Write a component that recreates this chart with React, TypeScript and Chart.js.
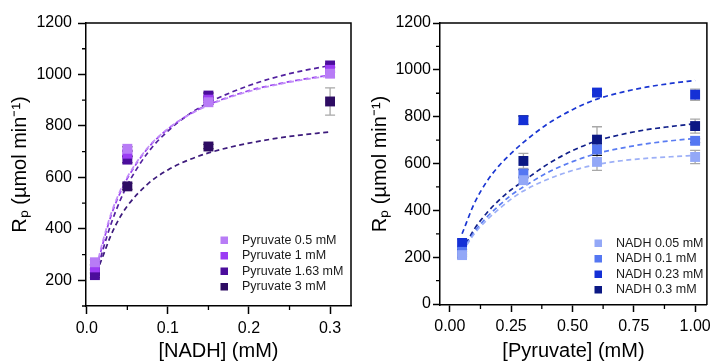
import React, { useEffect, useRef } from 'react';
import { Chart, registerables } from 'chart.js';

Chart.register(...registerables);

const FONT = "'Liberation Sans', Arial, Helvetica, sans-serif";
const BLK = '#111111';
const GRY = '#a8a8a8';

// ---------------- Left panel: Rp vs [NADH] ----------------
const nadhConc = [0.01, 0.05, 0.15, 0.3];
const pyruvateLabels = ['Pyruvate 0.5 mM', 'Pyruvate 1 mM', 'Pyruvate 1.63 mM', 'Pyruvate 3 mM'];
const pyruvateColors = ['#b87cf6', '#9b3cf4', '#4b0d9c', '#2e0c63'];
const pyruvateFitColors = ['#c28ef8', '#9a42f0', '#52209f', '#3d1b7c'];

const pyr05Rate = [270, 711, 892, 1003];
const pyr1Rate = [250, 692, 902, 1018];
const pyr163Rate = [220, 669, 918, 1035];
const pyr3Rate = [235, 565, 720, 895];

const pyr05Err = [10, 8, 8, 13];
const pyr1Err = [10, 10, 10, 9];
const pyr163Err = [10, 12, 10, 6];
const pyr3Err = [10, 12, 8, 53];

const pyr05ErrColor = [BLK, BLK, BLK, GRY];
const pyr1ErrColor = [BLK, BLK, BLK, BLK];
const pyr163ErrColor = [BLK, BLK, BLK, BLK];
const pyr3ErrColor = [BLK, BLK, BLK, GRY];

const nadhFitConc = [0.012, 0.02, 0.03, 0.04, 0.05, 0.075, 0.1, 0.125, 0.15, 0.2, 0.25, 0.3];
const pyr05Fit = [255, 355, 460, 540, 602, 715, 789, 841, 880, 934, 970, 995];
const pyr1Fit = [245, 345, 452, 532, 596, 712, 788, 842, 882, 937, 972, 998];
const pyr163Fit = [225, 320, 420, 502, 570, 695, 780, 843, 890, 957, 1003, 1035];
const pyr3Fit = [230, 295, 377, 440, 489, 574, 629, 667, 695, 733, 759, 777];

const nadhTicks = [0, 0.1, 0.2, 0.3];
const nadhMinorTicks = [0.05, 0.15, 0.25];
const leftRateTicks = [200, 400, 600, 800, 1000, 1200];
const leftRateMinorTicks = [100, 300, 500, 700, 900, 1100];

// ---------------- Right panel: Rp vs [Pyruvate] ----------------
const pyruvateConc = [0.05, 0.3, 0.6, 1.0];
const nadhLabels = ['NADH 0.05 mM', 'NADH 0.1 mM', 'NADH 0.23 mM', 'NADH 0.3 mM'];
const nadhColors = ['#93a8f7', '#5577f2', '#1430d6', '#0b1884'];
const nadhFitColors = ['#9db0f7', '#5a7cf2', '#1a36d2', '#11208a'];

const nadh005Rate = [209, 529, 607, 628];
const nadh01Rate = [223, 557, 660, 697];
const nadh023Rate = [261, 785, 903, 894];
const nadh03Rate = [215, 611, 702, 760];

const nadh005Err = [12, 15, 36, 28];
const nadh01Err = [10, 17, 25, 8];
const nadh023Err = [15, 18, 10, 24];
const nadh03Err = [10, 32, 55, 30];

const nadh005ErrColor = [GRY, GRY, GRY, GRY];
const nadh01ErrColor = [BLK, BLK, BLK, BLK];
const nadh023ErrColor = [GRY, BLK, BLK, GRY];
const nadh03ErrColor = [BLK, GRY, GRY, GRY];

const pyrFitConc = [0.05, 0.1, 0.15, 0.2, 0.25, 0.3, 0.4, 0.5, 0.6, 0.7, 0.8, 0.9, 1.0];
const nadh005Fit = [222, 300, 358, 405, 448, 483, 533, 570, 596, 612, 622, 629, 635];
const nadh01Fit = [224, 308, 370, 420, 465, 500, 562, 608, 643, 666, 684, 697, 707];
const nadh023Fit = [300, 430, 522, 590, 643, 690, 770, 830, 875, 904, 926, 942, 955];
const nadh03Fit = [226, 320, 388, 443, 488, 525, 598, 655, 697, 724, 744, 758, 770];

const pyrTicks = [0, 0.25, 0.5, 0.75, 1.0];
const pyrMinorTicks = [0.125, 0.375, 0.625, 0.875];
const rightRateTicks = [0, 200, 400, 600, 800, 1000, 1200];
const rightRateMinorTicks = [100, 300, 500, 700, 900, 1100];

const yTitle = 'R\u209A (\u00B5mol min\u207B\u00B9)';

type Series = {
  label: string; color: string; fitColor: string;
  values: number[]; errors: number[]; errColors: string[]; fit: number[];
};

type Spec = {
  width: number; height: number; offsetX: number;
  areaLeft: number; areaRight: number; areaTop: number; areaBottom: number;
  xMin: number; xMax: number; yMin: number; yMax: number;
  xTicks: number[]; xMinor: number[]; yTicks: number[]; yMinor: number[];
  xDec: number; xTitle: string; tickLen: number; yPad: number; xPad: number; yTitlePad: number;
  pointX: number[]; fitX: number[]; series: Series[];
  legendX: number; legendTextX: number; legendY: number; legendStep: number;
};

const leftSpec: Spec = {
  width: 358, height: 363, offsetX: 0,
  areaLeft: 86, areaRight: 352, areaTop: 23, areaBottom: 306,
  xMin: -0.001, xMax: 0.3258, yMin: 100, yMax: 1200,
  xTicks: nadhTicks, xMinor: nadhMinorTicks, yTicks: leftRateTicks, yMinor: leftRateMinorTicks,
  xDec: 1, xTitle: '[NADH] (mM)', tickLen: 8, yPad: 6, xPad: 5, yTitlePad: 8,
  pointX: nadhConc, fitX: nadhFitConc,
  series: [
    { label: pyruvateLabels[0], color: pyruvateColors[0], fitColor: pyruvateFitColors[0], values: pyr05Rate, errors: pyr05Err, errColors: pyr05ErrColor, fit: pyr05Fit },
    { label: pyruvateLabels[1], color: pyruvateColors[1], fitColor: pyruvateFitColors[1], values: pyr1Rate, errors: pyr1Err, errColors: pyr1ErrColor, fit: pyr1Fit },
    { label: pyruvateLabels[2], color: pyruvateColors[2], fitColor: pyruvateFitColors[2], values: pyr163Rate, errors: pyr163Err, errColors: pyr163ErrColor, fit: pyr163Fit },
    { label: pyruvateLabels[3], color: pyruvateColors[3], fitColor: pyruvateFitColors[3], values: pyr3Rate, errors: pyr3Err, errColors: pyr3ErrColor, fit: pyr3Fit },
  ],
  legendX: 224, legendTextX: 242, legendY: 240, legendStep: 15.5,
};

const rightSpec: Spec = {
  width: 358, height: 363, offsetX: 358,
  areaLeft: 82, areaRight: 354, areaTop: 23, areaBottom: 305,
  xMin: -0.04, xMax: 1.048, yMin: -4, yMax: 1200,
  xTicks: pyrTicks, xMinor: pyrMinorTicks, yTicks: rightRateTicks, yMinor: rightRateMinorTicks,
  xDec: 2, xTitle: '[Pyruvate] (mM)', tickLen: 7, yPad: 2, xPad: 5, yTitlePad: 10,
  pointX: pyruvateConc, fitX: pyrFitConc,
  series: [
    { label: nadhLabels[0], color: nadhColors[0], fitColor: nadhFitColors[0], values: nadh005Rate, errors: nadh005Err, errColors: nadh005ErrColor, fit: nadh005Fit },
    { label: nadhLabels[1], color: nadhColors[1], fitColor: nadhFitColors[1], values: nadh01Rate, errors: nadh01Err, errColors: nadh01ErrColor, fit: nadh01Fit },
    { label: nadhLabels[2], color: nadhColors[2], fitColor: nadhFitColors[2], values: nadh023Rate, errors: nadh023Err, errColors: nadh023ErrColor, fit: nadh023Fit },
    { label: nadhLabels[3], color: nadhColors[3], fitColor: nadhFitColors[3], values: nadh03Rate, errors: nadh03Err, errColors: nadh03ErrColor, fit: nadh03Fit },
  ],
  legendX: 240, legendTextX: 258, legendY: 243, legendStep: 15.5,
};

function makeDecor(s: Spec) {
  return {
    id: 'decor',
    beforeDatasetsDraw(chart: any) {
      const ctx = chart.ctx;
      const ys = chart.scales.y;
      chart.data.datasets.forEach((ds: any, i: number) => {
        if (!ds.errors) return;
        const meta = chart.getDatasetMeta(i);
        meta.data.forEach((el: any, j: number) => {
          const v = ds.data[j].y;
          const e = ds.errors[j];
          const x = el.x;
          const yt = ys.getPixelForValue(v + e);
          const yb = ys.getPixelForValue(v - e);
          ctx.save();
          ctx.strokeStyle = ds.errColors[j];
          ctx.lineWidth = 1.3;
          ctx.beginPath();
          ctx.moveTo(x, yt); ctx.lineTo(x, yb);
          ctx.moveTo(x - 5, yt); ctx.lineTo(x + 5, yt);
          ctx.moveTo(x - 5, yb); ctx.lineTo(x + 5, yb);
          ctx.stroke();
          ctx.restore();
        });
      });
    },
    afterDraw(chart: any) {
      const ctx = chart.ctx;
      const { left, right, top, bottom } = chart.chartArea;
      const xs = chart.scales.x;
      const ys = chart.scales.y;
      ctx.save();
      ctx.strokeStyle = '#000';
      ctx.lineWidth = 1.5;
      ctx.beginPath();
      ctx.moveTo(left, top); ctx.lineTo(right, top); ctx.lineTo(right, bottom);
      ctx.stroke();
      ctx.lineWidth = 1.3;
      ctx.beginPath();
      s.xMinor.forEach((v) => {
        const px = xs.getPixelForValue(v);
        ctx.moveTo(px, bottom); ctx.lineTo(px, bottom + 4);
      });
      s.yMinor.forEach((v) => {
        const py = ys.getPixelForValue(v);
        ctx.moveTo(left, py); ctx.lineTo(left - 4, py);
      });
      ctx.stroke();
      // legend
      ctx.font = `12.5px ${FONT}`;
      ctx.textBaseline = 'middle';
      ctx.textAlign = 'left';
      let row = 0;
      chart.data.datasets.forEach((ds: any) => {
        if (!ds.inLegend) return;
        const y = s.legendY + row * s.legendStep;
        ctx.fillStyle = ds.pointBackgroundColor;
        ctx.fillRect(s.legendX - 3.5, y - 3.5, 7.5, 7.5);
        ctx.fillStyle = '#1a1a1a';
        ctx.fillText(ds.label, s.legendTextX, y + 0.5);
        row++;
      });
      ctx.restore();
    },
  };
}

function buildConfig(s: Spec): any {
  const datasets: any[] = [];
  s.series.forEach((ser) => {
    datasets.push({
      label: ser.label,
      data: s.pointX.map((x, j) => ({ x, y: ser.values[j] })),
      showLine: false,
      pointStyle: 'rect',
      pointRadius: 7,
      pointBackgroundColor: ser.color,
      pointBorderColor: ser.color,
      pointBorderWidth: 0,
      order: 0,
      errors: ser.errors,
      errColors: ser.errColors,
      inLegend: true,
    });
  });
  s.series.forEach((ser) => {
    datasets.push({
      label: ser.label + ' fit',
      data: s.fitX.map((x, j) => ({ x, y: ser.fit[j] })),
      showLine: true,
      pointRadius: 0,
      borderColor: ser.fitColor,
      borderWidth: 1.7,
      borderDash: [5, 3.5],
      cubicInterpolationMode: 'monotone',
      fill: false,
      order: 1,
    });
  });

  const tickFont = { family: FONT, size: 16 };
  const titleFont = { family: FONT, size: 20 };

  return {
    type: 'scatter',
    data: { datasets },
    plugins: [makeDecor(s)],
    options: {
      animation: false,
      responsive: false,
      maintainAspectRatio: false,
      events: [],
      layout: { padding: { left: 0, right: s.width - s.areaRight, top: s.areaTop, bottom: 0 } },
      plugins: { legend: { display: false }, tooltip: { enabled: false } },
      scales: {
        x: {
          type: 'linear',
          min: s.xMin,
          max: s.xMax,
          afterBuildTicks: (sc: any) => { sc.ticks = s.xTicks.map((v) => ({ value: v })); },
          afterFit: (sc: any) => { sc.height = s.height - s.areaBottom; },
          ticks: {
            callback: (v: any) => Number(v).toFixed(s.xDec),
            font: tickFont, color: '#000', padding: s.xPad, maxRotation: 0, autoSkip: false,
          },
          grid: { drawOnChartArea: false, drawTicks: true, tickLength: s.tickLen, color: '#000', tickWidth: 1.5 },
          border: { display: true, color: '#000', width: 1.5 },
          title: { display: true, text: s.xTitle, font: titleFont, color: '#000', padding: 0 },
        },
        y: {
          type: 'linear',
          min: s.yMin,
          max: s.yMax,
          afterBuildTicks: (sc: any) => { sc.ticks = s.yTicks.map((v) => ({ value: v })); },
          afterFit: (sc: any) => { sc.width = s.areaLeft; },
          ticks: {
            callback: (v: any) => String(v),
            font: tickFont, color: '#000', padding: s.yPad, autoSkip: false,
          },
          grid: { drawOnChartArea: false, drawTicks: true, tickLength: s.tickLen, color: '#000', tickWidth: 1.5 },
          border: { display: true, color: '#000', width: 1.5 },
          title: { display: true, text: yTitle, font: titleFont, color: '#000', padding: { top: s.yTitlePad, bottom: 0 } },
        },
      },
    },
  };
}

function Panel({ spec }: { spec: Spec }) {
  const ref = useRef<HTMLCanvasElement | null>(null);
  useEffect(() => {
    if (!ref.current) return;
    const chart = new Chart(ref.current, buildConfig(spec));
    return () => chart.destroy();
  }, [spec]);
  return (
    <div style={{ position: 'absolute', left: spec.offsetX, top: 0, width: spec.width, height: spec.height }}>
      <canvas ref={ref} width={spec.width} height={spec.height} style={{ display: 'block', width: spec.width, height: spec.height }} />
    </div>
  );
}

export default function App() {
  return (
    <div style={{ position: 'absolute', left: 0, top: 0, width: 716, height: 363, background: '#ffffff', overflow: 'hidden' }}>
      <Panel spec={leftSpec} />
      <Panel spec={rightSpec} />
    </div>
  );
}
